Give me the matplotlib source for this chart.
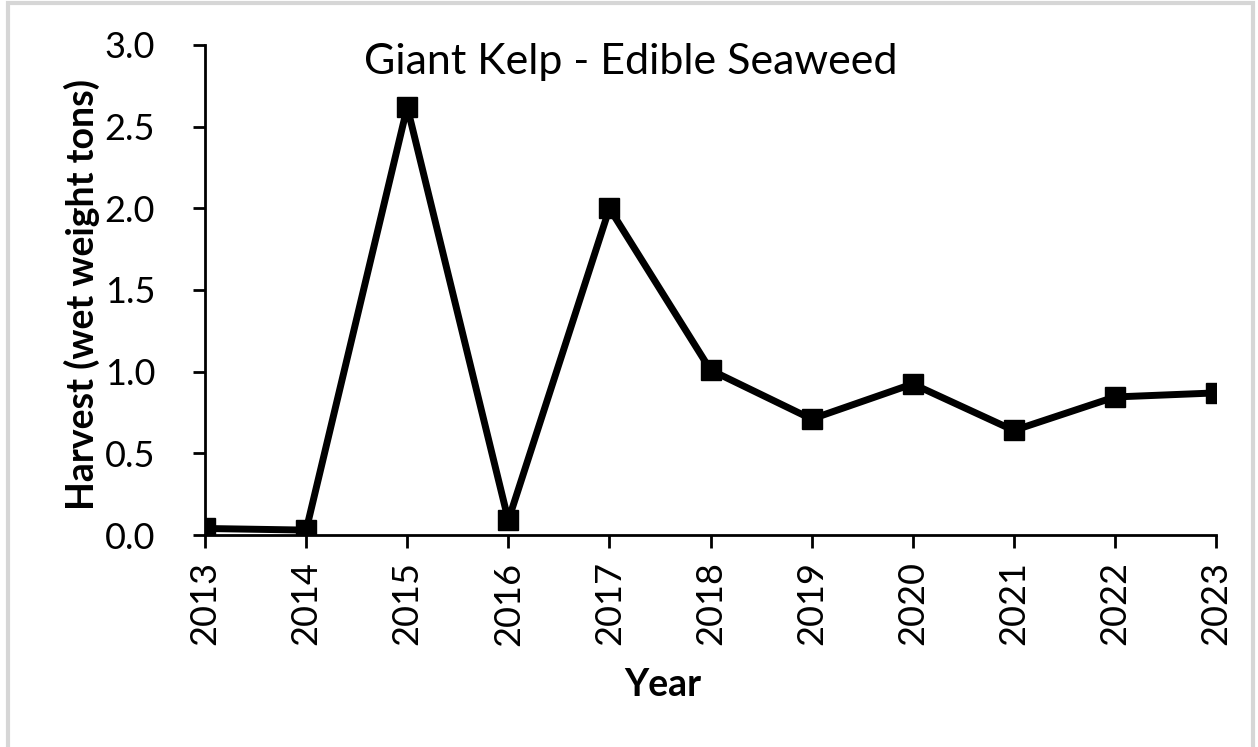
import matplotlib.pyplot as plt
from matplotlib.patches import Rectangle

years = [2013, 2014, 2015, 2016, 2017, 2018, 2019, 2020, 2021, 2022, 2023]
harvest = [0.04, 0.03, 2.62, 0.09, 2.00, 1.01, 0.71, 0.925, 0.64, 0.845, 0.87]
yticks = [0.0, 0.5, 1.0, 1.5, 2.0, 2.5, 3.0]

plt.rcParams['font.family'] = ['Lato', 'DejaVu Sans']

fig = plt.figure(figsize=(12.58, 7.47), dpi=100)
ax = fig.add_axes([0.163, 0.2838, 0.8036, 0.656])

ax.plot(years, harvest, color='black', linewidth=5, marker='s', markersize=14)

ax.set_xlim(2013, 2023)
ax.set_ylim(0, 3.0)
ax.set_xticks(years)
ax.set_xticklabels([str(y) for y in years], rotation=90)
ax.set_yticks(yticks)
ax.set_yticklabels([f'{v:.1f}' for v in yticks])
ax.tick_params(labelsize=26, length=9, width=2, direction='out')
ax.tick_params(axis='x', pad=10)
ax.tick_params(axis='y', pad=27)

for s in ['top', 'right']:
    ax.spines[s].set_visible(False)
for s in ['left', 'bottom']:
    ax.spines[s].set_linewidth(2)

ax.set_xlabel('Year', fontsize=27, fontweight='bold')
ax.set_ylabel('Harvest (wet weight tons)', fontsize=27, fontweight='bold')
ax.xaxis.set_label_coords(0.453, -0.272)
ax.yaxis.set_label_coords(-0.1217, 0.49)
ax.yaxis.label.set_va('center')
ax.text(0.421, 0.965, 'Giant Kelp - Edible Seaweed', transform=ax.transAxes,
        ha='center', va='center', fontsize=31)

# light grey frame around the figure
fig.patches.append(Rectangle((8 / 1258, -0.01), 1245 / 1258, 1 - 3 / 747 + 0.01,
                             transform=fig.transFigure, fill=False,
                             edgecolor='#d6d6d6', linewidth=3))

fig.savefig('out.png', dpi=100)
